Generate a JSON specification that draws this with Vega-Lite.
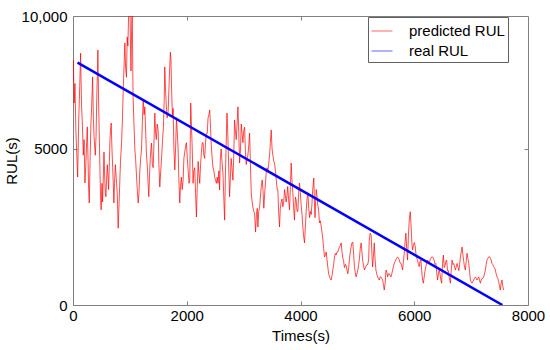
{
  "$schema": "https://vega.github.io/schema/vega-lite/v6.json",
  "width": 455,
  "height": 289,
  "autosize": {"type": "none"},
  "padding": {"left": 73, "top": 16, "right": 22, "bottom": 45},
  "background": "white",
  "config": {
    "font": "Liberation Sans",
    "view": {"stroke": "#808080", "strokeWidth": 1},
    "axis": {"grid": false, "domain": false, "tickColor": "#808080", "tickSize": -4, "labelFlush": false, "labelOverlap": false, "labelFontSize": 15, "labelColor": "black", "titleFontSize": 15, "titleFontWeight": "normal", "titleColor": "black", "labelFont": "Liberation Sans", "titleFont": "Liberation Sans"},
    "legend": {"orient": "none", "legendX": 295, "legendY": 1, "strokeColor": "#606060", "fillColor": "white", "padding": 3, "symbolType": "stroke", "symbolSize": 441, "symbolStrokeWidth": 1, "symbolOpacity": 0.6, "labelFontSize": 15, "labelFont": "Liberation Sans", "labelColor": "black", "rowPadding": 1, "labelOffset": 16, "title": null}
  },
  "datasets": {
    "pred": [
      {"t":0,"v":7200},{"t":6,"v":7850},{"t":20,"v":6470},{"t":35,"v":7100},{"t":50,"v":5600},{"t":64,"v":4970},{"t":82,"v":4100},{"t":100,"v":5900},{"t":118,"v":7000},{"t":134,"v":8070},{"t":150,"v":6400},{"t":165,"v":5800},{"t":181,"v":4800},{"t":195,"v":5300},{"t":210,"v":3910},{"t":225,"v":4500},{"t":240,"v":5200},{"t":251,"v":5710},{"t":265,"v":4600},{"t":275,"v":3700},{"t":286,"v":3270},{"t":300,"v":4600},{"t":315,"v":5800},{"t":327,"v":6300},{"t":345,"v":7310},{"t":358,"v":6000},{"t":370,"v":5400},{"t":392,"v":4800},{"t":405,"v":5400},{"t":420,"v":6800},{"t":438,"v":8170},{"t":450,"v":6500},{"t":465,"v":5200},{"t":475,"v":4200},{"t":485,"v":3470},{"t":495,"v":3050},{"t":510,"v":3900},{"t":520,"v":3300},{"t":532,"v":4000},{"t":545,"v":4900},{"t":555,"v":4200},{"t":568,"v":3600},{"t":579,"v":3470},{"t":590,"v":4000},{"t":603,"v":4500},{"t":615,"v":4100},{"t":626,"v":3700},{"t":640,"v":4600},{"t":650,"v":5300},{"t":660,"v":5600},{"t":672,"v":5830},{"t":685,"v":5000},{"t":698,"v":4400},{"t":710,"v":3800},{"t":719,"v":3270},{"t":730,"v":3900},{"t":745,"v":4500},{"t":755,"v":4200},{"t":766,"v":3900},{"t":780,"v":3500},{"t":790,"v":2700},{"t":795,"v":2460},{"t":805,"v":3000},{"t":820,"v":3800},{"t":835,"v":4600},{"t":854,"v":5200},{"t":870,"v":6000},{"t":885,"v":7000},{"t":900,"v":7800},{"t":912,"v":8400},{"t":925,"v":7600},{"t":940,"v":7300},{"t":953,"v":8590},{"t":965,"v":8300},{"t":977,"v":9230},{"t":990,"v":9500},{"t":1000,"v":9800},{"t":1012,"v":8200},{"t":1020,"v":7500},{"t":1030,"v":8800},{"t":1041,"v":9600},{"t":1055,"v":6790},{"t":1070,"v":5900},{"t":1088,"v":4970},{"t":1100,"v":4700},{"t":1115,"v":4200},{"t":1130,"v":3700},{"t":1146,"v":3270},{"t":1160,"v":3600},{"t":1175,"v":4300},{"t":1190,"v":4700},{"t":1205,"v":5000},{"t":1220,"v":5900},{"t":1234,"v":6570},{"t":1250,"v":6100},{"t":1263,"v":6350},{"t":1275,"v":5710},{"t":1290,"v":4900},{"t":1310,"v":4330},{"t":1320,"v":3900},{"t":1333,"v":3470},{"t":1345,"v":4100},{"t":1358,"v":4700},{"t":1370,"v":5000},{"t":1380,"v":5190},{"t":1395,"v":4500},{"t":1410,"v":4400},{"t":1425,"v":5300},{"t":1439,"v":6150},{"t":1452,"v":5500},{"t":1465,"v":5300},{"t":1480,"v":5800},{"t":1497,"v":5600},{"t":1510,"v":4500},{"t":1526,"v":3780},{"t":1540,"v":4200},{"t":1560,"v":4800},{"t":1575,"v":5300},{"t":1590,"v":5700},{"t":1603,"v":6500},{"t":1614,"v":7630},{"t":1625,"v":7000},{"t":1640,"v":6400},{"t":1655,"v":6000},{"t":1673,"v":6200},{"t":1688,"v":7000},{"t":1700,"v":7600},{"t":1712,"v":8100},{"t":1722,"v":7900},{"t":1735,"v":6800},{"t":1750,"v":6000},{"t":1760,"v":6300},{"t":1775,"v":5000},{"t":1790,"v":4330},{"t":1805,"v":5100},{"t":1819,"v":6000},{"t":1835,"v":5500},{"t":1848,"v":5000},{"t":1862,"v":4000},{"t":1877,"v":3270},{"t":1890,"v":3800},{"t":1905,"v":4100},{"t":1920,"v":3700},{"t":1936,"v":4000},{"t":1950,"v":4700},{"t":1965,"v":4900},{"t":1980,"v":5100},{"t":1994,"v":5200},{"t":2010,"v":4700},{"t":2025,"v":4300},{"t":2040,"v":3900},{"t":2053,"v":4000},{"t":2062,"v":5300},{"t":2070,"v":6470},{"t":2082,"v":5800},{"t":2095,"v":5100},{"t":2111,"v":3900},{"t":2125,"v":4300},{"t":2140,"v":4400},{"t":2155,"v":3600},{"t":2170,"v":2820},{"t":2185,"v":3800},{"t":2200,"v":4600},{"t":2214,"v":4200},{"t":2228,"v":3900},{"t":2243,"v":4500},{"t":2258,"v":4900},{"t":2272,"v":5200},{"t":2287,"v":5200},{"t":2300,"v":4800},{"t":2315,"v":4700},{"t":2330,"v":5200},{"t":2345,"v":5500},{"t":2360,"v":5500},{"t":2375,"v":6000},{"t":2390,"v":6100},{"t":2404,"v":6250},{"t":2418,"v":5700},{"t":2432,"v":5100},{"t":2447,"v":4700},{"t":2462,"v":4400},{"t":2477,"v":4300},{"t":2491,"v":4100},{"t":2506,"v":4000},{"t":2521,"v":3900},{"t":2535,"v":4100},{"t":2550,"v":3900},{"t":2565,"v":4300},{"t":2578,"v":3690},{"t":2590,"v":4650},{"t":2605,"v":5000},{"t":2620,"v":4600},{"t":2637,"v":4200},{"t":2650,"v":3500},{"t":2666,"v":2720},{"t":2680,"v":4200},{"t":2695,"v":5290},{"t":2707,"v":6150},{"t":2720,"v":5600},{"t":2735,"v":4600},{"t":2753,"v":3470},{"t":2765,"v":4000},{"t":2780,"v":4700},{"t":2795,"v":4400},{"t":2812,"v":4000},{"t":2825,"v":4700},{"t":2841,"v":5930},{"t":2855,"v":5600},{"t":2870,"v":5300},{"t":2885,"v":5800},{"t":2900,"v":6350},{"t":2915,"v":5500},{"t":2929,"v":4550},{"t":2945,"v":5000},{"t":2958,"v":5800},{"t":2973,"v":5500},{"t":2988,"v":5200},{"t":3003,"v":5600},{"t":3017,"v":5700},{"t":3032,"v":4900},{"t":3046,"v":4500},{"t":3060,"v":4700},{"t":3075,"v":4800},{"t":3090,"v":5100},{"t":3105,"v":5510},{"t":3120,"v":4500},{"t":3134,"v":3590},{"t":3150,"v":3300},{"t":3163,"v":3140},{"t":3178,"v":3000},{"t":3193,"v":2950},{"t":3210,"v":2340},{"t":3225,"v":2900},{"t":3240,"v":3100},{"t":3251,"v":2500},{"t":3265,"v":3000},{"t":3280,"v":3100},{"t":3295,"v":3460},{"t":3310,"v":3800},{"t":3327,"v":4010},{"t":3340,"v":3700},{"t":3355,"v":3100},{"t":3368,"v":3500},{"t":3383,"v":3900},{"t":3397,"v":4230},{"t":3410,"v":4400},{"t":3427,"v":4300},{"t":3440,"v":4500},{"t":3456,"v":4800},{"t":3470,"v":5200},{"t":3485,"v":5610},{"t":3500,"v":5000},{"t":3515,"v":4800},{"t":3530,"v":4600},{"t":3543,"v":4550},{"t":3560,"v":4300},{"t":3575,"v":4000},{"t":3590,"v":3700},{"t":3602,"v":3700},{"t":3615,"v":3000},{"t":3631,"v":2500},{"t":3645,"v":3100},{"t":3660,"v":3300},{"t":3675,"v":3400},{"t":3690,"v":3150},{"t":3705,"v":3300},{"t":3720,"v":3700},{"t":3735,"v":3500},{"t":3748,"v":3300},{"t":3762,"v":3500},{"t":3775,"v":3800},{"t":3790,"v":3400},{"t":3807,"v":3050},{"t":3822,"v":3800},{"t":3836,"v":4550},{"t":3850,"v":4000},{"t":3865,"v":3600},{"t":3880,"v":3100},{"t":3894,"v":2720},{"t":3910,"v":3460},{"t":3923,"v":3370},{"t":3940,"v":3000},{"t":3953,"v":3000},{"t":3968,"v":3600},{"t":3982,"v":3910},{"t":3997,"v":3600},{"t":4012,"v":3200},{"t":4027,"v":2900},{"t":4041,"v":2500},{"t":4056,"v":2200},{"t":4071,"v":1990},{"t":4085,"v":2500},{"t":4100,"v":3000},{"t":4115,"v":3400},{"t":4130,"v":3590},{"t":4145,"v":3100},{"t":4160,"v":2800},{"t":4175,"v":3000},{"t":4188,"v":2900},{"t":4200,"v":3200},{"t":4215,"v":3700},{"t":4234,"v":4070},{"t":4245,"v":3300},{"t":4255,"v":2800},{"t":4265,"v":3300},{"t":4276,"v":3700},{"t":4290,"v":3500},{"t":4305,"v":3200},{"t":4320,"v":3000},{"t":4334,"v":2630},{"t":4350,"v":2700},{"t":4365,"v":2500},{"t":4380,"v":2300},{"t":4393,"v":2100},{"t":4408,"v":1800},{"t":4422,"v":1540},{"t":4437,"v":1600},{"t":4452,"v":1700},{"t":4466,"v":1450},{"t":4480,"v":1220},{"t":4495,"v":1000},{"t":4510,"v":900},{"t":4525,"v":850},{"t":4539,"v":800},{"t":4555,"v":950},{"t":4568,"v":1120},{"t":4583,"v":1300},{"t":4597,"v":1540},{"t":4612,"v":1650},{"t":4627,"v":1600},{"t":4641,"v":1700},{"t":4656,"v":1700},{"t":4670,"v":1780},{"t":4685,"v":1860},{"t":4700,"v":1900},{"t":4715,"v":1990},{"t":4730,"v":1700},{"t":4745,"v":1500},{"t":4758,"v":1400},{"t":4773,"v":1200},{"t":4790,"v":1300},{"t":4805,"v":1250},{"t":4820,"v":1100},{"t":4832,"v":1000},{"t":4848,"v":1200},{"t":4862,"v":1500},{"t":4876,"v":1700},{"t":4890,"v":1860},{"t":4905,"v":1990},{"t":4920,"v":2020},{"t":4935,"v":1600},{"t":4949,"v":1200},{"t":4963,"v":1050},{"t":4978,"v":900},{"t":4993,"v":1000},{"t":5008,"v":1120},{"t":5023,"v":1300},{"t":5037,"v":1500},{"t":5050,"v":1800},{"t":5066,"v":1990},{"t":5080,"v":1700},{"t":5095,"v":1400},{"t":5110,"v":1250},{"t":5125,"v":1120},{"t":5140,"v":1200},{"t":5154,"v":1250},{"t":5170,"v":1300},{"t":5183,"v":1300},{"t":5198,"v":1450},{"t":5209,"v":2080},{"t":5225,"v":2300},{"t":5242,"v":2240},{"t":5255,"v":1660},{"t":5268,"v":1220},{"t":5283,"v":1600},{"t":5297,"v":1990},{"t":5310,"v":1500},{"t":5326,"v":1120},{"t":5340,"v":1000},{"t":5356,"v":900},{"t":5370,"v":850},{"t":5385,"v":800},{"t":5400,"v":900},{"t":5415,"v":900},{"t":5430,"v":850},{"t":5444,"v":800},{"t":5458,"v":650},{"t":5473,"v":480},{"t":5488,"v":700},{"t":5503,"v":1120},{"t":5518,"v":1050},{"t":5532,"v":900},{"t":5547,"v":1000},{"t":5561,"v":1000},{"t":5575,"v":950},{"t":5590,"v":900},{"t":5605,"v":1000},{"t":5620,"v":1120},{"t":5635,"v":1250},{"t":5649,"v":1340},{"t":5664,"v":1400},{"t":5678,"v":1450},{"t":5692,"v":1500},{"t":5707,"v":1540},{"t":5722,"v":1500},{"t":5736,"v":1450},{"t":5751,"v":1350},{"t":5766,"v":1340},{"t":5780,"v":1250},{"t":5795,"v":1120},{"t":5810,"v":1400},{"t":5824,"v":1660},{"t":5838,"v":2000},{"t":5853,"v":2300},{"t":5868,"v":1800},{"t":5882,"v":1440},{"t":5897,"v":2200},{"t":5912,"v":2720},{"t":5930,"v":2990},{"t":5945,"v":2500},{"t":5958,"v":2000},{"t":5970,"v":1760},{"t":5985,"v":1900},{"t":6000,"v":2000},{"t":6015,"v":1900},{"t":6029,"v":1650},{"t":6044,"v":1500},{"t":6058,"v":1450},{"t":6073,"v":1300},{"t":6087,"v":1230},{"t":6102,"v":1400},{"t":6117,"v":1440},{"t":6131,"v":1100},{"t":6146,"v":800},{"t":6160,"v":700},{"t":6175,"v":900},{"t":6190,"v":1100},{"t":6204,"v":1230},{"t":6220,"v":1350},{"t":6235,"v":1440},{"t":6249,"v":1400},{"t":6263,"v":1330},{"t":6278,"v":1440},{"t":6292,"v":1500},{"t":6306,"v":1540},{"t":6321,"v":1540},{"t":6336,"v":1500},{"t":6350,"v":1440},{"t":6365,"v":1300},{"t":6380,"v":1330},{"t":6395,"v":1050},{"t":6410,"v":800},{"t":6425,"v":1000},{"t":6438,"v":1120},{"t":6453,"v":1000},{"t":6468,"v":800},{"t":6482,"v":700},{"t":6497,"v":1330},{"t":6512,"v":1600},{"t":6526,"v":1200},{"t":6541,"v":1250},{"t":6555,"v":1400},{"t":6570,"v":1440},{"t":6585,"v":1100},{"t":6600,"v":1100},{"t":6613,"v":900},{"t":6625,"v":800},{"t":6636,"v":700},{"t":6650,"v":1100},{"t":6665,"v":1440},{"t":6680,"v":1300},{"t":6695,"v":1330},{"t":6710,"v":1200},{"t":6725,"v":1120},{"t":6740,"v":1250},{"t":6755,"v":1330},{"t":6770,"v":1200},{"t":6783,"v":1100},{"t":6798,"v":1300},{"t":6812,"v":1540},{"t":6826,"v":1700},{"t":6841,"v":1860},{"t":6855,"v":1600},{"t":6870,"v":1400},{"t":6885,"v":1200},{"t":6899,"v":1120},{"t":6913,"v":1400},{"t":6928,"v":1660},{"t":6943,"v":1500},{"t":6958,"v":1330},{"t":6972,"v":1100},{"t":6987,"v":800},{"t":7000,"v":750},{"t":7016,"v":700},{"t":7030,"v":750},{"t":7045,"v":800},{"t":7060,"v":850},{"t":7075,"v":900},{"t":7090,"v":850},{"t":7104,"v":800},{"t":7118,"v":850},{"t":7133,"v":900},{"t":7148,"v":800},{"t":7162,"v":700},{"t":7177,"v":800},{"t":7192,"v":850},{"t":7206,"v":850},{"t":7221,"v":900},{"t":7235,"v":1000},{"t":7250,"v":1120},{"t":7265,"v":1300},{"t":7280,"v":1450},{"t":7295,"v":1500},{"t":7309,"v":1540},{"t":7323,"v":1550},{"t":7338,"v":1500},{"t":7352,"v":1440},{"t":7367,"v":1330},{"t":7380,"v":1300},{"t":7396,"v":1230},{"t":7410,"v":1200},{"t":7426,"v":1120},{"t":7440,"v":1000},{"t":7455,"v":900},{"t":7470,"v":850},{"t":7484,"v":750},{"t":7500,"v":600},{"t":7514,"v":480},{"t":7528,"v":700},{"t":7543,"v":800},{"t":7557,"v":600},{"t":7572,"v":480}
    ],
    "real": [
      {"t":80,"v":7770},{"t":7550,"v":0}
    ]
  },
  "layer": [
    {
      "data": {"name": "pred"},
      "mark": {"type": "line", "strokeWidth": 0.7, "clip": true},
      "encoding": {
        "x": {"field": "t", "type": "quantitative", "scale": {"domain": [0, 8000], "nice": false}, "axis": {"orient": "bottom", "values": [0, 2000, 4000, 6000, 8000], "format": "d", "title": "Times(s)", "labelPadding": 7, "titlePadding": 5}},
        "y": {"field": "v", "type": "quantitative", "scale": {"domain": [0, 9262], "nice": false, "zero": false}, "axis": {"orient": "left", "values": [0, 5000, 9262], "format": "d", "labelExpr": "datum.value > 9000 ? '10,000' : datum.label", "title": "RUL(s)", "labelPadding": 10, "titlePadding": 2}},
        "color": {"datum": "predicted RUL", "type": "nominal", "scale": {"domain": ["predicted RUL", "real RUL"], "range": ["#ff0000", "#0000ff"]}, "legend": {"encode": {"symbols": {"update": {"stroke": {"scale": "color", "field": "value"}}}}}}
      }
    },
    {
      "data": {"name": "real"},
      "mark": {"type": "line", "strokeWidth": 2.5, "clip": true},
      "encoding": {
        "x": {"field": "t", "type": "quantitative", "scale": {"domain": [0, 8000], "nice": false}, "axis": {"orient": "top", "values": [2000, 4000, 6000], "labels": false, "title": null}},
        "y": {"field": "v", "type": "quantitative", "scale": {"domain": [0, 9262], "nice": false, "zero": false}, "axis": {"orient": "right", "values": [5000], "labels": false, "title": null}},
        "color": {"datum": "real RUL", "type": "nominal"}
      }
    }
  ],
  "resolve": {"axis": {"x": "independent", "y": "independent"}}
}
